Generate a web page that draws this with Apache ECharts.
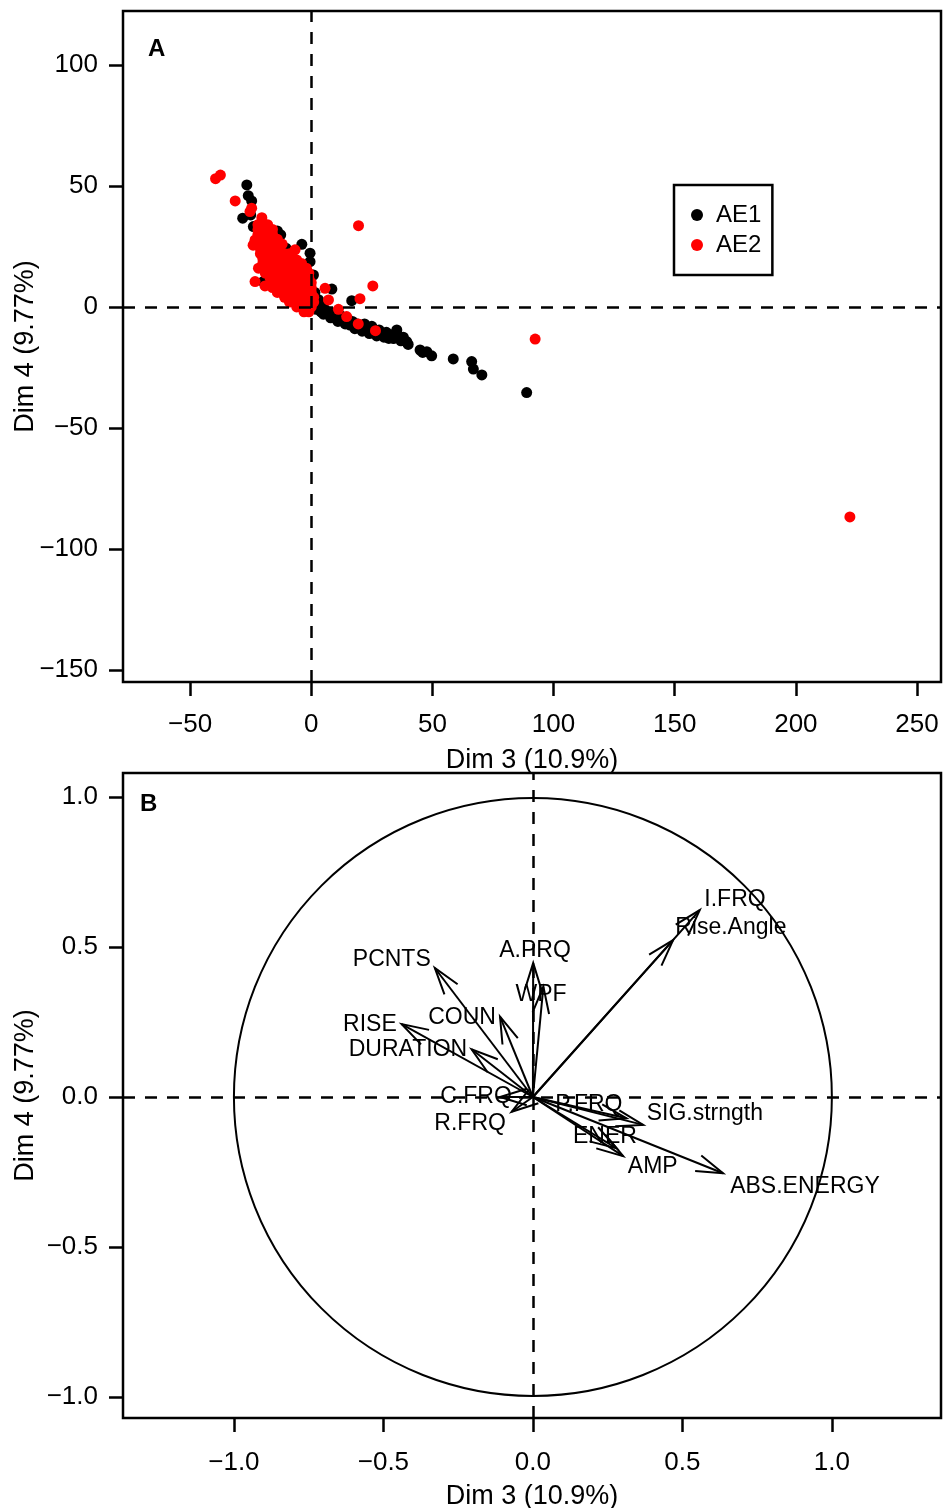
<!DOCTYPE html>
<html>
<head>
<meta charset="utf-8">
<script src="https://cdn.jsdelivr.net/npm/echarts@6/dist/echarts.min.js"></script>
<style>
html,body{margin:0;padding:0;background:#fff;}
#chart{width:943px;height:1508px;}
</style>
</head>
<body>
<div id="chart"></div>
<script>
// ---------- Panel A data (individuals, Dim 3 vs Dim 4) ----------
const ae1 = [
  [-26.6,50.4],[-24.6,43.8],[-28.3,36.7],[-23.9,33.2],[-14.0,31.4],[-12.6,29.8],[-3.9,25.9],
  [-0.5,22.2],[-0.5,18.7],[-10.4,24.3],[8.5,7.4],[-19.8,10.5],[-23.2,27.0],[0.9,13.2],
  [2.3,0.8],[-0.5,10.5],[16.7,2.6],[-9,22],[-17,30],[-25,38],[-26,46],[-2,15],[1.5,6],
  [3,3],[5,1],[-1,3],[4,-1],
  [2,-1],[4,-2],[5,-3],[6,-1.5],[7,-3],[8,-4.5],[9,-2.5],[10,-4],[11,-6],[12,-3.5],
  [13,-5.5],[14,-7],[15,-5],[16,-7.5],[17,-6],[18,-9],[19,-7],[20,-8.5],[21,-10],[22,-7],
  [23,-9],[24,-11],[25,-8],[26,-10],[27,-12],[28,-9.5],[29,-11],[30,-12.5],[31,-10.5],
  [32,-13],[33,-11.5],[34,-13],[35.3,-9.5],[36,-12],[37,-14],[38,-12.5],[39.4,-14.3],
  [40,-15.5],[33.9,-12.9],[44.9,-17.8],[46,-18.8],[47.7,-18.5],[49.7,-20.2],[58.6,-21.5],
  [66.2,-22.6],[66.9,-25.7],[70.4,-28.1],[88.9,-35.4]
];
const ae2 = [
  [-39.5,53],[-37.5,54.5],[-31.4,43.8],[-24.6,40.8],[-20.4,36.9],[-21.8,33.9],[-25.3,39.4],
  [-23.2,27.7],[-24,25.5],[-21.8,16.0],[-23.2,10.5],[-19.1,8.7],[-6.7,23.6],[-6.0,19.4],
  [19.5,33.6],[25.4,8.7],[20.1,3.4],[5.7,7.7],[7.1,2.9],[11.2,-1.0],[14.6,-4.0],[19.4,-7.0],
  [26.5,-9.8],[92.4,-13.3],[222.3,-86.8],
  [-22,34],[-20,34],[-18,34],
  [-22,32],[-20,32],[-18,32],[-16,32],
  [-22,30],[-20,30],[-18,30],[-16,30],
  [-22,28],[-20,28],[-18,28],[-16,28],[-14,28],
  [-22,26],[-20,26],[-18,26],[-16,26],[-14,26],[-12,26],
  [-21,24],[-19,24],[-17,24],[-15,24],[-13,24],
  [-21,22],[-19,22],[-17,22],[-15,22],[-13,22],[-11,22],[-9,22],
  [-20,20],[-18,20],[-16,20],[-14,20],[-12,20],[-10,20],[-8,20],
  [-20,18],[-18,18],[-16,18],[-14,18],[-12,18],[-10,18],[-8,18],[-6,18],[-4,18],
  [-20,16],[-18,16],[-16,16],[-14,16],[-12,16],[-10,16],[-8,16],[-6,16],[-4,16],[-2,16],
  [-19,14],[-17,14],[-15,14],[-13,14],[-11,14],[-9,14],[-7,14],[-5,14],[-3,14],[-1,14],
  [-17,12],[-15,12],[-13,12],[-11,12],[-9,12],[-7,12],[-5,12],[-3,12],[-1,12],
  [-16,10],[-14,10],[-12,10],[-10,10],[-8,10],[-6,10],[-4,10],[-2,10],[0,10],
  [-16,8],[-14,8],[-12,8],[-10,8],[-8,8],[-6,8],[-4,8],[-2,8],[0,8],
  [-14,6],[-12,6],[-10,6],[-8,6],[-6,6],[-4,6],[-2,6],[0,6],
  [-11,4],[-9,4],[-7,4],[-5,4],[-3,4],[-1,4],[1,4],
  [-9,2],[-7,2],[-5,2],[-3,2],[-1,2],[1,2],
  [-6,0],[-4,0],[-2,0],[0,0],
  [-3,-2],[-1,-2]
];
const ticksAX = [-50, 0, 50, 100, 150, 200, 250];
const ticksAY = [-150, -100, -50, 0, 50, 100];

// ---------- Panel B data (variables, correlation circle) ----------
const varNames = ['I.FRQ','Rise.Angle','PCNTS','A.PRQ','WPF','COUN','RISE','DURATION',
                  'C.FRQ','R.FRQ','P.FRQ','SIG.strngth','ENER','AMP','ABS.ENERGY'];
const varDim3 = [0.558, 0.469, -0.328, 0.001, 0.035, -0.110, -0.439, -0.205,
                 -0.110, -0.071, 0.313, 0.369, 0.280, 0.302, 0.636];
const varDim4 = [0.623, 0.523, 0.430, 0.447, 0.368, 0.268, 0.243, 0.159,
                 0.000, -0.049, -0.071, -0.093, -0.171, -0.197, -0.254];
// label anchor positions (data units)
const labDim3 = [0.676, 0.662, -0.472, 0.007, 0.027, -0.237, -0.545, -0.418,
                 -0.190, -0.210, 0.187, 0.575, 0.241, 0.401, 0.910];
const labDim4 = [0.657, 0.563, 0.457, 0.487, 0.340, 0.263, 0.240, 0.157,
                 0.000, -0.090, -0.027, -0.057, -0.133, -0.233, -0.300];
const ticksB = [-1.0, -0.5, 0.0, 0.5, 1.0];

// ---------- chart ----------
const FONT = '"Liberation Sans", Arial, sans-serif';
const minus = s => String(s).replace('-', '\u2212');
const chart = echarts.init(document.getElementById('chart'), null, {renderer: 'canvas'});

function axisCommon(ticks, fmt, margin) {
  return {
    axisLine: {show: false, onZero: false},
    splitLine: {show: false},
    axisTick: {show: true, length: 14, customValues: ticks, lineStyle: {color: '#000', width: 2.5}},
    axisLabel: {customValues: ticks, formatter: fmt, color: '#000', fontSize: 26,
                fontFamily: FONT, margin: margin},
    nameLocation: 'middle',
    nameMoveOverlap: false,
    nameTextStyle: {color: '#000', fontSize: 27, fontFamily: FONT}
  };
}
const dashStyle = {color: '#000', width: 2.5, type: [12, 10]};

function arrowItem(params, api) {
  const o = api.coord([0, 0]);
  const p = api.coord([api.value(0), api.value(1)]);
  const ang = Math.atan2(p[1] - o[1], p[0] - o[0]);
  const L = 28, a = 0.3;
  const h1 = [p[0] - L * Math.cos(ang - a), p[1] - L * Math.sin(ang - a)];
  const h2 = [p[0] - L * Math.cos(ang + a), p[1] - L * Math.sin(ang + a)];
  return {type: 'group', children: [
    {type: 'line', shape: {x1: o[0], y1: o[1], x2: p[0], y2: p[1]},
     style: {stroke: '#000', lineWidth: 2}},
    {type: 'polyline', shape: {points: [h1, p, h2]},
     style: {stroke: '#000', lineWidth: 2, fill: null}}
  ]};
}
function labelItem(params, api) {
  const p = api.coord([api.value(0), api.value(1)]);
  return {type: 'text', x: p[0], y: p[1],
    style: {text: varNames[params.dataIndex], fill: '#000', fontSize: 23, fontFamily: FONT,
            align: 'center', verticalAlign: 'middle'}};
}
function circleItem(params, api) {
  const c = api.coord([api.value(0), api.value(1)]);
  const r = api.size([api.value(2), 0])[0];
  return {type: 'circle', shape: {cx: c[0], cy: c[1], r: r},
          style: {stroke: '#000', lineWidth: 2, fill: null}};
}

const option = {
  animation: false,
  backgroundColor: '#fff',
  title: [
    {text: 'A', left: 143, top: 32, textStyle: {fontSize: 24, fontWeight: 'bold', color: '#000', fontFamily: FONT}},
    {text: 'B', left: 135, top: 787, textStyle: {fontSize: 24, fontWeight: 'bold', color: '#000', fontFamily: FONT}}
  ],
  legend: {
    data: ['AE1', 'AE2'], orient: 'vertical', left: 674, top: 185,
    icon: 'circle', itemWidth: 28, itemHeight: 12, itemGap: 6,
    padding: [18, 11, 18, 17], borderColor: '#000', borderWidth: 2.5,
    textStyle: {fontSize: 24, lineHeight: 22, color: '#000', fontFamily: FONT},
    selectedMode: false
  },
  grid: [
    {left: 123, top: 11, width: 818, height: 671, show: true, borderColor: '#000', borderWidth: 2.5,
     backgroundColor: 'transparent', containLabel: false, outerBoundsMode: 'none'},
    {left: 123, top: 773, width: 818, height: 645, show: true, borderColor: '#000', borderWidth: 2.5,
     backgroundColor: 'transparent', containLabel: false, outerBoundsMode: 'none'}
  ],
  xAxis: [
    Object.assign(axisCommon(ticksAX, v => minus(v), 30), {
      type: 'value', gridIndex: 0, min: -77.7, max: 259.9,
      name: 'Dim 3 (10.9%)', nameGap: 65}),
    Object.assign(axisCommon(ticksB, v => minus(Number(v).toFixed(1)), 32), {
      type: 'value', gridIndex: 1, min: -1.371, max: 1.365,
      name: 'Dim 3 (10.9%)', nameGap: 65})
  ],
  yAxis: [
    Object.assign(axisCommon(ticksAY, v => minus(v), 25), {
      type: 'value', gridIndex: 0, min: -155.0, max: 122.3,
      name: 'Dim 4 (9.77%)', nameGap: 84}),
    Object.assign(axisCommon(ticksB, v => minus(Number(v).toFixed(1)), 25), {
      type: 'value', gridIndex: 1, min: -1.07, max: 1.08,
      name: 'Dim 4 (9.77%)', nameGap: 84})
  ],
  series: [
    {name: 'refA', type: 'scatter', xAxisIndex: 0, yAxisIndex: 0, data: [], z: 1,
     markLine: {silent: true, symbol: ['none', 'none'], label: {show: false},
                lineStyle: dashStyle, data: [{xAxis: 0}, {yAxis: 0}]}},
    {name: 'AE1', type: 'scatter', xAxisIndex: 0, yAxisIndex: 0, data: ae1, z: 3,
     symbolSize: 11, itemStyle: {color: '#000', opacity: 1}},
    {name: 'AE2', type: 'scatter', xAxisIndex: 0, yAxisIndex: 0, data: ae2, z: 4,
     symbolSize: 11, itemStyle: {color: '#ff0000', opacity: 1}},
    {name: 'refB', type: 'scatter', xAxisIndex: 1, yAxisIndex: 1, data: [], z: 1,
     markLine: {silent: true, symbol: ['none', 'none'], label: {show: false},
                lineStyle: dashStyle, data: [{xAxis: 0}, {yAxis: 0}]}},
    {name: 'circle', type: 'custom', xAxisIndex: 1, yAxisIndex: 1, z: 2, silent: true,
     renderItem: circleItem, data: [[0, 0, 1]], clip: false},
    {name: 'arrows', type: 'custom', xAxisIndex: 1, yAxisIndex: 1, z: 3, silent: true,
     renderItem: arrowItem, data: varDim3.map((x, i) => [x, varDim4[i]])},
    {name: 'labels', type: 'custom', xAxisIndex: 1, yAxisIndex: 1, z: 4, silent: true,
     renderItem: labelItem, data: labDim3.map((x, i) => [x, labDim4[i]])}
  ]
};
chart.setOption(option);
</script>
</body>
</html>
